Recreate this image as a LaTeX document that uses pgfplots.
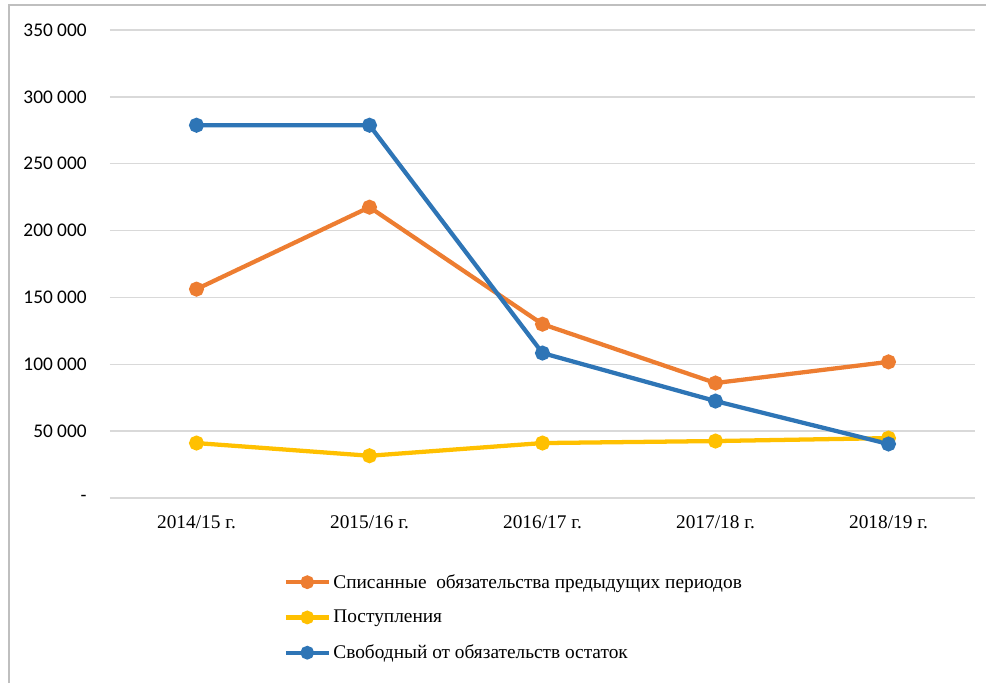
\documentclass[border=0pt]{standalone}
\usepackage{fontspec}
\setmainfont{Liberation Serif}
\newfontfamily\calibri{Carlito}
\usepackage{pgfplots}
\pgfplotsset{compat=1.18}

\definecolor{xl_orange}{HTML}{ED7D31}
\definecolor{xl_yellow}{HTML}{FFC000}
\definecolor{xl_blue}{HTML}{2E75B6}
\definecolor{xl_grid}{HTML}{D9D9D9}
\definecolor{xl_frame}{HTML}{BFBFBF}

\begin{document}
% 1 px of the reference = 0.75pt; origin at the top-left corner
\begin{tikzpicture}
\useasboundingbox (0pt,0pt) rectangle (739.5pt,-512.25pt);
\draw[xl_frame, line width=1.2pt] (6.75pt,-512.25pt) -- (6.75pt,-3.75pt) -- (739.5pt,-3.75pt);

\begin{axis}[
    at={(82.5pt,-373.5pt)}, anchor=south west,
    scale only axis,
    width=648.75pt, height=351pt,
    xmin=-0.5, xmax=4.5,
    ymin=0, ymax=350000,
    scaled y ticks=false,
    axis line style={draw=none},
    tick style={draw=none},
    xtick={0,1,2,3,4},
    xticklabels={2014/15 г., 2015/16 г., 2016/17 г., 2017/18 г., 2018/19 г.},
    xticklabel style={font=\fontsize{14.5}{16}\selectfont, yshift=-10pt},
    ytick={0,50000,100000,150000,200000,250000,300000,350000},
    yticklabels={{-\hspace{8pt}}, 50 000, 100 000, 150 000, 200 000, 250 000, 300 000, 350 000},
    yticklabel style={font=\calibri\fontsize{14.5}{16}\selectfont, xshift=-14pt},
    ymajorgrids,
    major grid style={xl_grid, line width=1.1pt},
    legend style={
        at={(0.196,-0.151)}, anchor=north west,
        draw=none, fill=none,
        font=\fontsize{14.5}{16}\selectfont,
        row sep=11pt,
        /tikz/every even column/.append style={column sep=2pt},
    },
    legend cell align=left,
    legend image code/.code={
        \draw[#1] (0pt,0pt) -- (32pt,0pt);
        \draw[#1, mark repeat=1, mark size=3.5pt] plot coordinates {(16pt,0pt)};
    },
    every axis plot/.append style={line width=3.2pt, mark=*, mark size=4pt},
]
\addplot[xl_orange, mark options={fill=xl_orange, draw=xl_orange}] coordinates {
    (0,156200) (1,217500) (2,130000) (3,86000) (4,101800)
};
\addlegendentry{Списанные\ \ обязательства предыдущих периодов}
\addplot[xl_yellow, mark options={fill=xl_yellow, draw=xl_yellow}] coordinates {
    (0,41100) (1,31600) (2,41100) (3,42600) (4,44800)
};
\addlegendentry{Поступления}
\addplot[xl_blue, mark options={fill=xl_blue, draw=xl_blue}] coordinates {
    (0,278800) (1,278800) (2,108400) (3,72500) (4,40400)
};
\addlegendentry{Свободный от обязательств остаток}
\end{axis}
\end{tikzpicture}
\end{document}
